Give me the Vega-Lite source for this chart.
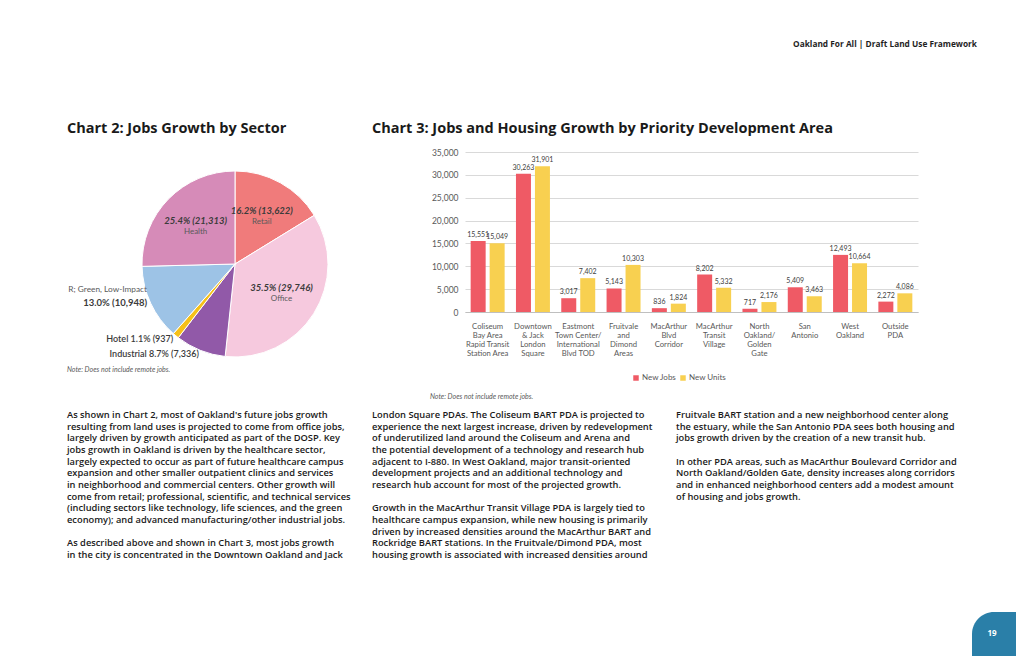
{
  "$schema": "https://vega.github.io/schema/vega-lite/v6.json",
  "background": "white",
  "padding": {"left": 67, "top": 40, "right": 0, "bottom": 0},
  "spacing": 8,
  "config": {"view": {"stroke": null}, "font": "Lato"},
  "datasets": {
    "body": [
      {"col": 1, "line": 0, "text": "As shown in Chart 2, most of Oakland's future jobs growth"},
      {"col": 1, "line": 1, "text": "resulting from land uses is projected to come from office jobs,"},
      {"col": 1, "line": 2, "text": "largely driven by growth anticipated as part of the DOSP. Key"},
      {"col": 1, "line": 3, "text": "jobs growth in Oakland is driven by the healthcare sector,"},
      {"col": 1, "line": 4, "text": "largely expected to occur as part of future healthcare campus"},
      {"col": 1, "line": 5, "text": "expansion and other smaller outpatient clinics and services"},
      {"col": 1, "line": 6, "text": "in neighborhood and commercial centers. Other growth will"},
      {"col": 1, "line": 7, "text": "come from retail; professional, scientific, and technical services"},
      {"col": 1, "line": 8, "text": "(including sectors like technology, life sciences, and the green"},
      {"col": 1, "line": 9, "text": "economy); and advanced manufacturing/other industrial jobs."},
      {"col": 1, "line": 11, "text": "As described above and shown in Chart 3, most jobs growth"},
      {"col": 1, "line": 12, "text": "in the city is concentrated in the Downtown Oakland and Jack"},
      {"col": 2, "line": 0, "text": "London Square PDAs. The Coliseum BART PDA is projected to"},
      {"col": 2, "line": 1, "text": "experience the next largest increase, driven by redevelopment"},
      {"col": 2, "line": 2, "text": "of underutilized land around the Coliseum and Arena and"},
      {"col": 2, "line": 3, "text": "the potential development of a technology and research hub"},
      {"col": 2, "line": 4, "text": "adjacent to I-880. In West Oakland, major transit-oriented"},
      {"col": 2, "line": 5, "text": "development projects and an additional technology and"},
      {"col": 2, "line": 6, "text": "research hub account for most of the projected growth."},
      {"col": 2, "line": 8, "text": "Growth in the MacArthur Transit Village PDA is largely tied to"},
      {"col": 2, "line": 9, "text": "healthcare campus expansion, while new housing is primarily"},
      {"col": 2, "line": 10, "text": "driven by increased densities around the MacArthur BART and"},
      {"col": 2, "line": 11, "text": "Rockridge BART stations. In the Fruitvale/Dimond PDA, most"},
      {"col": 2, "line": 12, "text": "housing growth is associated with increased densities around"},
      {"col": 3, "line": 0, "text": "Fruitvale BART station and a new neighborhood center along"},
      {"col": 3, "line": 1, "text": "the estuary, while the San Antonio PDA sees both housing and"},
      {"col": 3, "line": 2, "text": "jobs growth driven by the creation of a new transit hub."},
      {"col": 3, "line": 4, "text": "In other PDA areas, such as MacArthur Boulevard Corridor and"},
      {"col": 3, "line": 5, "text": "North Oakland/Golden Gate, density increases along corridors"},
      {"col": 3, "line": 6, "text": "and in enhanced neighborhood centers add a modest amount"},
      {"col": 3, "line": 7, "text": "of housing and jobs growth."}
    ]
  },
  "vconcat": [
    {
      "width": 910,
      "height": 72,
      "data": {"values": [{"header": "Oakland For All   |   Draft Land Use Framework"}]},
      "mark": {"type": "text", "align": "right", "baseline": "top", "font": "Open Sans", "fontWeight": 700, "fontSize": 8.3, "color": "#1f1f1f"},
      "encoding": {"text": {"field": "header", "type": "nominal"}, "x": {"value": "width"}, "y": {"value": 0}}
    },
    {
      "hconcat": [
        {
          "width": 336,
          "height": 224,
          "title": {"text": "Chart 2: Jobs Growth by Sector", "anchor": "start", "frame": "group", "font": "Open Sans", "fontSize": 14.5, "fontWeight": 700, "color": "#1a1a1a", "offset": 16},
          "layer": [
            {
              "data": {"values": [
                {"sector": "Retail", "jobs": 13622, "ord": 1, "inPct": "16.2% (13,622)", "inName": "Retail", "outLabel": "", "greenName": "", "greenPct": ""},
                {"sector": "Office", "jobs": 29746, "ord": 2, "inPct": "35.5% (29,746)", "inName": "Office", "outLabel": "", "greenName": "", "greenPct": ""},
                {"sector": "Industrial", "jobs": 7336, "ord": 3, "inPct": "", "inName": "", "outLabel": "Industrial 8.7% (7,336)", "greenName": "", "greenPct": ""},
                {"sector": "Hotel", "jobs": 937, "ord": 4, "inPct": "", "inName": "", "outLabel": "Hotel 1.1% (937)", "greenName": "", "greenPct": ""},
                {"sector": "Green", "jobs": 10948, "ord": 5, "inPct": "", "inName": "", "outLabel": "", "greenName": "R; Green, Low-Impact", "greenPct": "13.0% (10,948)"},
                {"sector": "Health", "jobs": 21313, "ord": 6, "inPct": "25.4% (21,313)", "inName": "Health", "outLabel": "", "greenName": "", "greenPct": ""}
              ]},
              "encoding": {
                "theta": {"field": "jobs", "type": "quantitative", "stack": true},
                "order": {"field": "ord", "type": "quantitative"}
              },
              "layer": [
                {
                  "mark": {"type": "arc", "outerRadius": 93, "stroke": "white", "strokeWidth": 1},
                  "encoding": {"color": {"field": "sector", "type": "nominal", "scale": {"domain": ["Retail", "Office", "Industrial", "Hotel", "Green", "Health"], "range": ["#f07b7b", "#f6c9de", "#9159a8", "#f5c018", "#9dc3e6", "#d68bb8"]}, "legend": null}}
                },
                {
                  "mark": {"type": "text", "radius": 55, "dy": -5, "fontSize": 9.5, "fontWeight": 700, "fontStyle": "italic", "color": "#3b3b3b"},
                  "encoding": {"text": {"field": "inPct", "type": "nominal"}}
                },
                {
                  "mark": {"type": "text", "radius": 55, "dy": 6, "fontSize": 8, "color": "#5a5a5a"},
                  "encoding": {"text": {"field": "inName", "type": "nominal"}}
                },
                {
                  "mark": {"type": "text", "radius": 97, "align": "right", "fontSize": 9, "fontWeight": 600, "color": "#3b3b3b"},
                  "encoding": {"text": {"field": "outLabel", "type": "nominal"}}
                },
                {
                  "mark": {"type": "text", "radius": 97, "align": "right", "dy": -15, "fontSize": 8.3, "color": "#5a5a5a"},
                  "encoding": {"text": {"field": "greenName", "type": "nominal"}}
                },
                {
                  "mark": {"type": "text", "radius": 97, "align": "right", "dy": -2, "fontSize": 9.5, "fontWeight": 700, "color": "#3b3b3b"},
                  "encoding": {"text": {"field": "greenPct", "type": "nominal"}}
                }
              ]
            },
            {
              "data": {"values": [{"note": "Note: Does not include remote jobs."}]},
              "mark": {"type": "text", "align": "left", "baseline": "bottom", "fontSize": 7, "fontStyle": "italic", "color": "#595959", "dy": -3},
              "encoding": {"text": {"field": "note", "type": "nominal"}, "x": {"value": 0}, "y": {"value": "height"}}
            }
          ]
        },
        {
          "width": 453,
          "height": 160,
          "title": {"text": "Chart 3: Jobs and Housing Growth by Priority Development Area", "anchor": "start", "frame": "group", "dx": -93, "font": "Open Sans", "fontSize": 14.5, "fontWeight": 700, "color": "#1a1a1a", "offset": 12},
          "layer": [
            {
              "data": {"values": [
                {"area": "Coliseum|Bay Area|Rapid Transit|Station Area", "series": "New Jobs", "value": 15551},
                {"area": "Coliseum|Bay Area|Rapid Transit|Station Area", "series": "New Units", "value": 15049},
                {"area": "Downtown|& Jack|London|Square", "series": "New Jobs", "value": 30263},
                {"area": "Downtown|& Jack|London|Square", "series": "New Units", "value": 31901},
                {"area": "Eastmont|Town Center/|International|Blvd TOD", "series": "New Jobs", "value": 3017},
                {"area": "Eastmont|Town Center/|International|Blvd TOD", "series": "New Units", "value": 7402},
                {"area": "Fruitvale|and|Dimond|Areas", "series": "New Jobs", "value": 5143},
                {"area": "Fruitvale|and|Dimond|Areas", "series": "New Units", "value": 10303},
                {"area": "MacArthur|Blvd|Corridor", "series": "New Jobs", "value": 836},
                {"area": "MacArthur|Blvd|Corridor", "series": "New Units", "value": 1824},
                {"area": "MacArthur|Transit|Village", "series": "New Jobs", "value": 8202},
                {"area": "MacArthur|Transit|Village", "series": "New Units", "value": 5332},
                {"area": "North|Oakland/|Golden|Gate", "series": "New Jobs", "value": 717},
                {"area": "North|Oakland/|Golden|Gate", "series": "New Units", "value": 2176},
                {"area": "San|Antonio", "series": "New Jobs", "value": 5409},
                {"area": "San|Antonio", "series": "New Units", "value": 3463},
                {"area": "West|Oakland", "series": "New Jobs", "value": 12493},
                {"area": "West|Oakland", "series": "New Units", "value": 10664},
                {"area": "Outside|PDA", "series": "New Jobs", "value": 2272},
                {"area": "Outside|PDA", "series": "New Units", "value": 4086}
              ]},
              "encoding": {
                "x": {"field": "area", "type": "nominal", "sort": null, "scale": {"paddingInner": 0.25, "paddingOuter": 0.125},
                  "axis": {"title": null, "labelAngle": 0, "labelExpr": "split(datum.label, '|')", "labelFontSize": 7.7, "labelColor": "#595959", "labelLineHeight": 9.3, "labelBaseline": "top", "labelPadding": 10, "ticks": false, "tickSize": 0, "domainColor": "#bfbfbf", "labelOverlap": false, "labelBound": false, "labelFont": "Lato"}},
                "xOffset": {"field": "series", "type": "nominal", "scale": {"paddingInner": 0.21, "paddingOuter": 0}},
                "y": {"field": "value", "type": "quantitative", "scale": {"domain": [0, 35000], "nice": false},
                  "axis": {"title": null, "tickCount": 7, "format": ",.0f", "domain": false, "ticks": false, "labelFontSize": 8.5, "labelColor": "#595959", "labelPadding": 7, "gridColor": "#d9d9d9", "labelFont": "Lato"}}
              },
              "layer": [
                {
                  "mark": {"type": "bar"},
                  "encoding": {"color": {"field": "series", "type": "nominal", "scale": {"domain": ["New Jobs", "New Units"], "range": ["#ef5a65", "#f8d050"]},
                    "legend": {"orient": "none", "legendX": 167, "legendY": 222, "direction": "horizontal", "title": null, "symbolType": "square", "symbolSize": 30, "symbolStrokeWidth": 0, "labelFontSize": 8, "labelColor": "#595959", "columnPadding": 2, "labelOffset": 2, "labelFont": "Lato"}}}
                },
                {
                  "mark": {"type": "text", "baseline": "middle", "dy": -6, "fontSize": 7, "color": "#404040"},
                  "encoding": {"text": {"field": "value", "type": "quantitative", "format": ","}}
                }
              ]
            },
            {
              "data": {"values": [{"note": "Note: Does not include remote jobs."}]},
              "mark": {"type": "text", "align": "left", "baseline": "middle", "fontSize": 7, "fontStyle": "italic", "color": "#595959", "dx": -35, "dy": 85},
              "encoding": {"text": {"field": "note", "type": "nominal"}, "x": {"value": 0}, "y": {"value": "height"}}
            }
          ]
        }
      ],
      "spacing": 62,
      "bounds": "flush",
      "resolve": {"scale": {"color": "independent"}, "legend": {"color": "independent"}}
    },
    {
      "hconcat": [
        {
          "width": 283,
          "height": 196,
          "data": {"name": "body"},
          "transform": [{"filter": "datum.col == 1"}],
          "mark": {"type": "text", "align": "left", "baseline": "top", "font": "Open Sans", "fontWeight": 600, "fontSize": 9.3, "color": "#1a1a1a"},
          "encoding": {"text": {"field": "text", "type": "nominal"}, "x": {"value": 0}, "y": {"field": "line", "type": "quantitative", "scale": {"domain": [-0.26, 16.54], "reverse": true, "nice": false, "zero": false}, "axis": null}}
        },
        {
          "width": 282,
          "height": 196,
          "data": {"name": "body"},
          "transform": [{"filter": "datum.col == 2"}],
          "mark": {"type": "text", "align": "left", "baseline": "top", "font": "Open Sans", "fontWeight": 600, "fontSize": 9.3, "color": "#1a1a1a"},
          "encoding": {"text": {"field": "text", "type": "nominal"}, "x": {"value": 0}, "y": {"field": "line", "type": "quantitative", "scale": {"domain": [-0.26, 16.54], "reverse": true, "nice": false, "zero": false}, "axis": null}}
        },
        {
          "width": 302,
          "height": 196,
          "data": {"name": "body"},
          "transform": [{"filter": "datum.col == 3"}],
          "mark": {"type": "text", "align": "left", "baseline": "top", "font": "Open Sans", "fontWeight": 600, "fontSize": 9.3, "color": "#1a1a1a"},
          "encoding": {"text": {"field": "text", "type": "nominal"}, "x": {"value": 0}, "y": {"field": "line", "type": "quantitative", "scale": {"domain": [-0.26, 16.54], "reverse": true, "nice": false, "zero": false}, "axis": null}}
        }
      ],
      "spacing": 22,
      "bounds": "flush",
      "resolve": {"scale": {"y": "independent"}}
    },
    {
      "hconcat": [
        {
          "width": 905,
          "height": 44,
          "data": {"values": [{"blank": ""}]},
          "mark": {"type": "text"},
          "encoding": {"text": {"field": "blank", "type": "nominal"}}
        },
        {
          "width": 44,
          "height": 44,
          "data": {"values": [{"page": "19"}]},
          "layer": [
            {"mark": {"type": "rect", "color": "#2a7fa8", "cornerRadiusTopLeft": 26}, "encoding": {}},
            {"mark": {"type": "text", "color": "white", "font": "Open Sans", "fontWeight": 700, "fontSize": 8, "dx": -2}, "encoding": {"text": {"field": "page", "type": "nominal"}}}
          ]
        }
      ],
      "spacing": 0,
      "bounds": "flush"
    }
  ]
}
